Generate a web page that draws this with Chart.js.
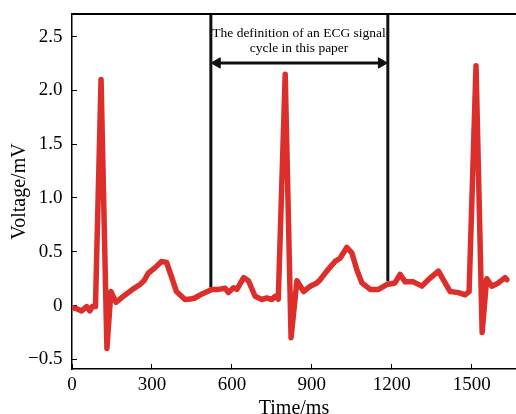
<!DOCTYPE html>
<html>
<head>
<meta charset="utf-8">
<script src="https://cdn.jsdelivr.net/npm/chart.js@4"></script>
<style>
  html, body { margin: 0; padding: 0; background: #fff; overflow: hidden; }
  #wrap { width: 516px; height: 414px; position: relative; }
</style>
</head>
<body>
<div id="wrap"><canvas id="c"></canvas></div>
<script>
// ---- data ----
const timeMs = [0, 18, 36, 55, 67, 76, 88, 109, 131, 146, 165, 190, 211, 233, 255, 270, 286, 311, 336, 355, 373, 392, 424, 445, 461, 490, 525, 550, 575, 587, 606, 619, 644, 662, 687, 712, 731, 750, 762, 774, 800, 822, 844, 869, 894, 919, 931, 956, 987, 1006, 1031, 1050, 1069, 1088, 1119, 1150, 1181, 1212, 1231, 1250, 1281, 1313, 1337, 1375, 1400, 1419, 1450, 1475, 1490, 1516, 1539, 1556, 1575, 1600, 1625, 1632];
const voltageMv = [-0.02, -0.03, -0.05, -0.01, -0.05, -0.01, -0.01, 2.10, -0.40, 0.13, 0.03, 0.08, 0.12, 0.16, 0.195, 0.23, 0.30, 0.35, 0.41, 0.40, 0.27, 0.13, 0.056, 0.06, 0.07, 0.11, 0.15, 0.15, 0.16, 0.12, 0.165, 0.15, 0.26, 0.23, 0.086, 0.056, 0.07, 0.056, 0.086, 0.06, 2.15, -0.30, 0.23, 0.13, 0.18, 0.21, 0.24, 0.32, 0.41, 0.44, 0.54, 0.49, 0.33, 0.21, 0.15, 0.15, 0.195, 0.21, 0.29, 0.22, 0.22, 0.18, 0.24, 0.32, 0.21, 0.13, 0.12, 0.10, 0.13, 2.23, -0.25, 0.25, 0.18, 0.21, 0.26, 0.24];

// cycle markers (vertical lines) and arrow
const cycleStartMs = 521;
const cycleEndMs = 1185;
const cycleStartLineV = [0.167, 2.71];
const cycleEndLineV = [0.226, 2.71];
const arrowMs = [545, 1161];
const arrowV = 2.255;
const annotationText = ['The definition of an ECG signal', 'cycle in this paper'];
const annotationMs = 852;
const annotationV = [2.497, 2.354];

// ticks
const xTickValues = [0, 300, 600, 900, 1200, 1500];
const xTickLabels = ['0', '300', '600', '900', '1200', '1500'];
const yTickValues = [-0.5, 0, 0.5, 1.0, 1.5, 2.0, 2.5];
const yTickLabels = ['\u22120.5', '0', '0.5', '1.0', '1.5', '2.0', '2.5'];

const xRange = [0, 1666];
const yRange = [-0.59, 2.71];

// ---- chart ----
const serif = 'Liberation Serif';
const signal = timeMs.map((t, i) => ({ x: t, y: voltageMv[i] }));

const annotationPlugin = {
  id: 'annot',
  afterDatasetsDraw(chart) {
    const { ctx, scales: { x, y }, chartArea } = chart;
    ctx.save();
    // top frame line
    ctx.strokeStyle = '#000';
    ctx.lineWidth = 2;
    ctx.beginPath();
    ctx.moveTo(chartArea.left, chartArea.top);
    ctx.lineTo(chartArea.right, chartArea.top);
    ctx.stroke();
    // annotation text
    ctx.fillStyle = '#000';
    ctx.font = '13.5px "' + serif + '"';
    ctx.textAlign = 'center';
    ctx.textBaseline = 'alphabetic';
    annotationText.forEach((s, i) => {
      ctx.fillText(s, x.getPixelForValue(annotationMs), y.getPixelForValue(annotationV[i]));
    });
    ctx.restore();
  }
};

new Chart(document.getElementById('c'), {
  type: 'line',
  data: {
    datasets: [
      {
        label: 'ECG',
        data: signal,
        borderColor: '#dc2f2b',
        borderWidth: 5.5,
        pointRadius: 0,
        tension: 0,
        borderJoinStyle: 'round',
        borderCapStyle: 'round',
        order: 0
      },
      {
        label: 'start',
        data: cycleStartLineV.map(v => ({ x: cycleStartMs, y: v })),
        borderColor: '#111',
        borderWidth: 3,
        pointRadius: 0,
        order: 1
      },
      {
        label: 'end',
        data: cycleEndLineV.map(v => ({ x: cycleEndMs, y: v })),
        borderColor: '#111',
        borderWidth: 3,
        pointRadius: 0,
        order: 1
      },
      {
        label: 'arrow',
        data: arrowMs.map(t => ({ x: t, y: arrowV })),
        borderColor: '#111',
        backgroundColor: '#111',
        borderWidth: 3,
        pointStyle: 'triangle',
        pointRadius: 6,
        pointHoverRadius: 6,
        pointBorderWidth: 1,
        pointRotation: [-90, 90],
        order: 1
      }
    ]
  },
  options: {
    responsive: true,
    maintainAspectRatio: false,
    animation: false,
    events: [],
    layout: { autoPadding: false, padding: { top: 14, right: 0, left: 0, bottom: 0 } },
    plugins: { legend: { display: false }, tooltip: { enabled: false } },
    scales: {
      x: {
        type: 'linear',
        min: xRange[0],
        max: xRange[1],
        afterBuildTicks: s => { s.ticks = xTickValues.map(v => ({ value: v })); },
        afterFit: s => { s.height = 45; s.paddingLeft = 0; s.paddingRight = 0; },
        grid: { drawOnChartArea: false, drawTicks: true, tickLength: -5, color: '#000', lineWidth: 1 },
        border: { display: true, color: '#000', width: 1.5 },
        ticks: {
          color: '#000',
          font: { family: serif, size: 19 },
          padding: 10,
          maxRotation: 0,
          callback: (v, i) => xTickLabels[i]
        },
        title: {
          display: true,
          text: 'Time/ms',
          color: '#000',
          font: { family: serif, size: 20 },
          padding: { top: 0, bottom: -7 }
        }
      },
      y: {
        type: 'linear',
        min: yRange[0],
        max: yRange[1],
        afterBuildTicks: s => { s.ticks = yTickValues.map(v => ({ value: v })); },
        afterFit: s => { s.width = 72; s.paddingTop = 0; s.paddingBottom = 0; },
        grid: { drawOnChartArea: false, drawTicks: true, tickLength: -5, color: '#000', lineWidth: 1 },
        border: { display: true, color: '#000', width: 1.5 },
        ticks: {
          color: '#000',
          font: { family: serif, size: 19 },
          padding: 14.5,
          callback: (v, i) => yTickLabels[i]
        },
        title: {
          display: true,
          text: 'Voltage/mV',
          color: '#000',
          font: { family: serif, size: 20 },
          padding: { top: 8, bottom: 0 }
        }
      }
    }
  },
  plugins: [annotationPlugin]
});
</script>
</body>
</html>
